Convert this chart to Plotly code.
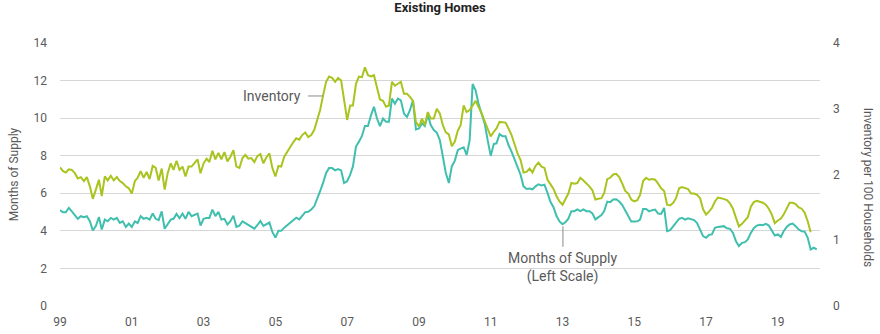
import pandas as pd
import plotly.graph_objects as go

# Months of supply (left scale), monthly from Jan 1999
months_supply = [
    5.10, 4.99, 4.99, 5.22, 5.04, 4.81, 4.64, 4.78, 4.73, 4.78,
    4.51, 4.02, 4.25, 4.74, 4.07, 4.60, 4.51, 4.69, 4.60, 4.69,
    4.42, 4.51, 4.21, 4.39, 4.21, 4.51, 4.42, 4.78, 4.64, 4.69,
    4.60, 4.92, 4.64, 4.57, 5.04, 4.11, 4.39, 4.60, 4.64, 4.90,
    4.67, 4.92, 4.64, 5.01, 4.78, 4.87, 4.92, 4.28, 4.64, 4.69,
    4.69, 5.13, 4.78, 5.01, 4.60, 4.64, 4.34, 4.51, 4.81, 4.21,
    4.28, 4.51, 4.42, 4.34, 4.21, 4.12,
    4.30, 4.52, 4.26, 4.35, 4.44, 3.94, 3.64, 4.00, 4.00, 4.17,
    4.30, 4.47, 4.58, 4.70, 4.61, 4.82, 5.00, 5.02, 5.14, 5.32,
    5.67, 6.11, 6.55, 7.08, 7.34, 7.34, 7.22, 7.29, 7.22, 6.55,
    6.64, 6.99, 7.43, 8.49, 8.75, 9.05, 9.58, 9.58, 10.16, 10.60,
    9.98, 9.58, 9.98, 9.81, 9.81, 11.04, 10.77, 11.04, 10.95, 10.25,
    10.07, 10.42, 10.95, 9.40, 9.45, 9.72, 9.58, 10.16, 9.63, 9.37,
    9.23, 8.84, 7.96, 7.08, 6.55,
    7.43, 7.74, 8.31, 8.38, 8.45, 8.04, 8.83, 11.82, 11.47, 10.72,
    10.28, 9.71, 8.83, 7.99, 8.62, 8.66, 9.15, 9.04, 9.04, 8.57,
    8.22, 7.81, 7.43, 6.99, 6.37, 6.23, 6.25, 6.21, 6.37, 6.48,
    6.42, 6.46, 6.02, 5.53, 5.26, 4.79, 4.50, 4.35, 4.47, 4.65,
    5.05, 5.05, 5.14, 5.05, 5.14, 5.05, 5.05, 4.93, 4.61, 4.75,
    4.84, 5.05, 5.56, 5.53, 5.67, 5.68, 5.56, 5.37, 5.10, 4.85,
    4.50, 4.50, 4.51, 4.60, 5.17, 5.17, 5.04, 5.10, 5.13, 4.92,
    4.90, 5.22, 3.98, 4.04, 4.25, 4.39, 4.64, 4.69, 4.60, 4.67,
    4.60, 4.57, 4.42, 4.07, 3.72, 3.63, 3.79, 3.81, 4.16, 4.21,
    4.21, 4.25, 4.14, 4.11, 3.89, 3.45, 3.19, 3.36, 3.40, 3.54,
    3.89, 4.14, 4.28, 4.32, 4.30, 4.37, 4.28, 3.98, 3.75, 3.81,
    3.68, 3.98, 4.21, 4.34, 4.39, 4.25, 4.07, 3.98, 3.96, 3.63,
    3.01, 3.10, 3.01,
]

# Inventory per 100 households (right scale), monthly from Jan 1999
inventory = [
    2.11, 2.05, 2.03, 2.08, 2.07, 2.02, 1.94, 1.96, 1.90, 1.96,
    1.82, 1.63, 1.77, 1.92, 1.67, 1.97, 1.91, 1.98, 1.91, 1.96,
    1.90, 1.87, 1.82, 1.79, 1.71, 1.90, 1.95, 2.05, 1.95, 2.04,
    1.93, 2.13, 2.10, 1.91, 2.09, 1.77, 2.02, 2.17, 2.07, 2.21,
    2.07, 2.12, 1.97, 2.12, 2.12, 2.17, 2.23, 2.02, 2.17, 2.24,
    2.19, 2.36, 2.23, 2.33, 2.23, 2.34, 2.20, 2.27, 2.37, 2.12,
    2.10, 2.25, 2.30, 2.24, 2.25, 2.19,
    2.28, 2.31, 2.17, 2.26, 2.32, 2.10, 1.97, 2.13, 2.12, 2.27,
    2.35, 2.43, 2.49, 2.55, 2.53, 2.60, 2.64, 2.57, 2.60, 2.68,
    2.83, 2.98, 3.20, 3.41, 3.49, 3.47, 3.41, 3.47, 3.43, 3.13,
    2.83, 3.05, 3.05, 3.38, 3.49, 3.48, 3.63, 3.51, 3.49, 3.51,
    3.33, 3.14, 3.12, 3.03, 3.05, 3.41, 3.35, 3.38, 3.41, 3.23,
    3.23, 3.18, 3.12, 2.80, 2.73, 2.85, 2.75, 2.95, 2.85, 2.85,
    3.00, 2.93, 2.75, 2.64, 2.61,
    2.43, 2.50, 2.67, 2.75, 3.05, 2.95, 2.98, 3.06, 3.12, 3.02,
    2.93, 2.81, 2.70, 2.58, 2.65, 2.70, 2.80, 2.79, 2.79, 2.70,
    2.60, 2.46, 2.32, 2.22, 2.03, 2.04, 2.09, 2.03, 2.13, 2.18,
    2.12, 2.10, 1.92, 1.85, 1.78, 1.67, 1.59, 1.54, 1.64, 1.71,
    1.87, 1.86, 1.87, 1.95, 1.91, 1.87, 1.82, 1.76, 1.62, 1.63,
    1.64, 1.72, 1.93, 1.95, 2.00, 2.01, 1.96, 1.86, 1.75, 1.71,
    1.62, 1.59, 1.61, 1.69, 1.90, 1.95, 1.92, 1.93, 1.92, 1.86,
    1.79, 1.75, 1.54, 1.53, 1.57, 1.64, 1.79, 1.81, 1.79, 1.78,
    1.71, 1.71, 1.69, 1.64, 1.47, 1.39, 1.44, 1.49, 1.59, 1.65,
    1.64, 1.62, 1.61, 1.56, 1.48, 1.34, 1.21, 1.25, 1.30, 1.35,
    1.51, 1.58, 1.60, 1.59, 1.57, 1.54, 1.48, 1.39, 1.26, 1.30,
    1.33, 1.39, 1.49, 1.57, 1.57, 1.55, 1.50, 1.48, 1.42, 1.29,
    1.12,
]

x_tick_vals = ["1999-01-01", "2001-01-01", "2003-01-01", "2005-01-01", "2007-01-01",
               "2009-01-01", "2011-01-01", "2013-01-01", "2015-01-01", "2017-01-01",
               "2019-01-01"]
x_tick_text = ["99", "01", "03", "05", "07", "09", "11", "13", "15", "17", "19"]

dates_ms = pd.date_range("1999-01-01", periods=len(months_supply), freq="MS")
dates_inv = pd.date_range("1999-01-01", periods=len(inventory), freq="MS")

TEAL = "#41bfae"
GREEN = "#a9c41f"
GRAY_TXT = "#5a5a5a"
FONT = "Roboto"

fig = go.Figure()
fig.add_trace(go.Scatter(x=dates_inv, y=inventory, mode="lines", yaxis="y2",
                         line=dict(color=GREEN, width=2), name="Inventory",
                         showlegend=False))
fig.add_trace(go.Scatter(x=dates_ms, y=months_supply, mode="lines", yaxis="y",
                         line=dict(color=TEAL, width=2), name="Months of Supply",
                         showlegend=False))

fig.update_layout(
    width=880, height=334,
    margin=dict(l=60, r=60, t=43, b=28),
    paper_bgcolor="white", plot_bgcolor="white",
    font=dict(family=FONT, size=12, color=GRAY_TXT),
    title=dict(text="<b>Existing Homes</b>", x=0.5, xanchor="center",
               y=1 - 7 / 334, yanchor="middle", yref="container",
               font=dict(family=FONT, size=13, color="#222222")),
    xaxis=dict(type="date", range=["1999-01-01", "2020-03-05"],
               tickvals=x_tick_vals, ticktext=x_tick_text,
               showgrid=False, zeroline=False, showline=False,
               ticks="", ticklabelstandoff=7, automargin=False,
               tickfont=dict(size=12, color=GRAY_TXT)),
    yaxis=dict(range=[0, 14], dtick=2, tick0=0, showgrid=True,
               gridcolor="#d6d6d6", gridwidth=1, zeroline=False,
               showline=False, ticks="", ticklabelstandoff=12, automargin=False,
               title=dict(text="Months of Supply", standoff=12,
                          font=dict(size=12, color=GRAY_TXT)),
               tickfont=dict(size=12, color=GRAY_TXT)),
    yaxis2=dict(range=[0, 4], dtick=1, tick0=0, overlaying="y", side="right",
                showgrid=False, zeroline=False, showline=False, ticks="",
                automargin=False,
                ticklabelstandoff=12, tickfont=dict(size=12, color=GRAY_TXT)),
)

fig.add_annotation(text="Inventory per 100 Households", xref="paper", yref="paper",
                   x=1.063, y=0.45, textangle=90, showarrow=False,
                   font=dict(size=12, color=GRAY_TXT), xanchor="center",
                   yanchor="middle")

fig.add_annotation(text="Inventory", xref="x", yref="y", x="2005-10-08", y=11.18,
                   xanchor="right", yanchor="middle", showarrow=False,
                   font=dict(size=14, color=GRAY_TXT))
fig.add_shape(type="line", xref="x", yref="y", x0="2005-11-28", x1="2006-05-01",
              y0=11.18, y1=11.18, line=dict(color="#8a8a8a", width=1))

fig.add_annotation(text="Months of Supply<br>(Left Scale)", xref="x", yref="y",
                   x="2013-01-05", y=2.05, xanchor="center", yanchor="middle",
                   showarrow=False, font=dict(size=14, color=GRAY_TXT))
fig.add_shape(type="line", xref="x", yref="y", x0="2013-01-05", x1="2013-01-05",
              y0=4.24, y1=3.15, line=dict(color="#8a8a8a", width=1))

fig.write_html("out.html")
